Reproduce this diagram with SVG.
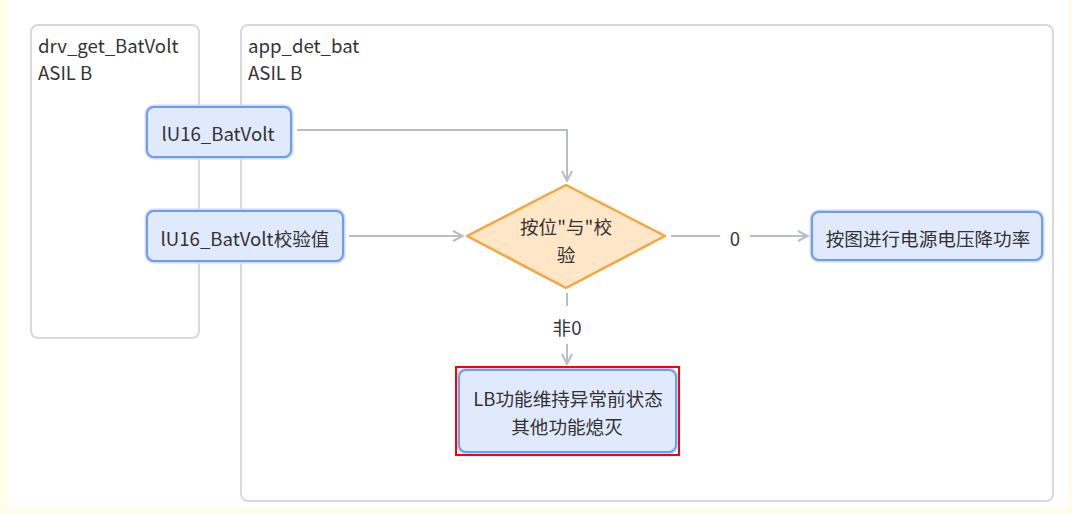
<svg xmlns="http://www.w3.org/2000/svg" width="1072" height="514" viewBox="0 0 1072 514">
<defs>
<style>
.txt{font-family:"Noto Sans CJK SC","Noto Sans",sans-serif;font-size:18.6px;fill:#333;}
.c{text-anchor:middle;dominant-baseline:central;}
.cont{fill:#fff;stroke:#d9d9d9;stroke-width:2;}
.node{fill:#e1e9fc;stroke:#6e9cf2;stroke-width:2;}
.glow{fill:none;stroke:#c9d9fb;stroke-width:5;}
.edge{fill:none;stroke:#b9bdc4;stroke-width:2;}
.lbl{fill:#fff;}
</style>
<marker id="arr" viewBox="0 0 12 12" refX="11" refY="6" markerWidth="12" markerHeight="12" markerUnits="userSpaceOnUse" orient="auto">
<path d="M1,1 L11,6 L1,11" fill="none" stroke="#b9bdc4" stroke-width="2"/>
</marker>
</defs>
<rect x="0" y="0" width="1072" height="514" fill="#fffde6"/>
<rect x="6" y="0" width="1062" height="508" fill="#fff"/>

<g id="lane-drv">
<rect class="cont" x="31" y="25" width="168" height="313" rx="7"/>
<text class="txt" x="38" y="53">drv_get_BatVolt</text>
<text class="txt" x="38" y="80">ASIL B</text>
</g>
<g id="lane-app">
<rect class="cont" x="241" y="25" width="812" height="476" rx="7"/>
<text class="txt" x="248" y="53">app_det_bat</text>
<text class="txt" x="248" y="80">ASIL B</text>
</g>

<g id="connectors">
<path class="edge" d="M297,130 H567 V181" marker-end="url(#arr)"/>
<path class="edge" d="M349,236 H463" marker-end="url(#arr)"/>
<path class="edge" d="M671,236 H808" marker-end="url(#arr)"/>
<path class="edge" d="M567,293 V364" marker-end="url(#arr)"/>
<rect class="lbl" x="720" y="224" width="30" height="26"/>
<text class="txt c" x="735" y="237">0</text>
<rect class="lbl" x="550" y="306" width="34" height="38"/>
<text class="txt c" x="567" y="326">非0</text>
</g>

<g id="n1">
<rect class="glow" x="147" y="107" width="144" height="50" rx="7"/>
<rect class="node" x="147" y="107" width="144" height="50" rx="7"/>
<text class="txt c" x="218" y="132">lU16_BatVolt</text>
</g>
<g id="n2">
<rect class="glow" x="147" y="211" width="196" height="50" rx="7"/>
<rect class="node" x="147" y="211" width="196" height="50" rx="7"/>
<text class="txt c" x="245" y="237">lU16_BatVolt校验值</text>
</g>
<g id="n-check">
<polygon points="566,185 665,236 566,288 467,236" fill="#ffe6c7" stroke="#f9a43a" stroke-width="2.5" stroke-linejoin="round"/>
<text class="txt c" x="566" y="225">按位"与"校</text>
<text class="txt c" x="566" y="253">验</text>
</g>
<g id="n3">
<rect class="glow" x="812" y="212" width="230" height="48" rx="7"/>
<rect class="node" x="812" y="212" width="230" height="48" rx="7"/>
<text class="txt c" x="928" y="237">按图进行电源电压降功率</text>
</g>
<g id="n4">
<rect class="glow" x="459" y="370" width="217" height="82" rx="7"/>
<rect class="node" x="459" y="370" width="217" height="82" rx="7"/>
<text class="txt c" x="568" y="397">LB功能维持异常前状态</text>
<text class="txt c" x="567" y="425">其他功能熄灭</text>
<rect x="456" y="367" width="223" height="88" fill="none" stroke="#ff0000" stroke-width="2"/>
</g>
</svg>
